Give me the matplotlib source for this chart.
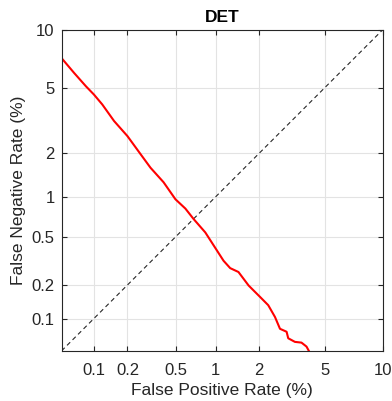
import math
import numpy as np
import matplotlib
matplotlib.use("Agg")
import matplotlib.pyplot as plt

plt.rcParams['font.family'] = ['Liberation Sans', 'DejaVu Sans']

# DET curve (percent)
fpr = [0.05, 0.066, 0.085, 0.101, 0.120, 0.153, 0.200, 0.259, 0.313, 0.40,
       0.497, 0.594, 0.687, 0.84, 0.99, 1.14, 1.27, 1.45, 1.70, 2.03, 2.29,
       2.53, 2.72, 2.99, 3.06, 3.36, 3.68, 3.94, 4.12]
fnr = [7.24, 6.04, 5.11, 4.58, 4.02, 3.20, 2.58, 1.97, 1.60, 1.27,
       0.96, 0.82, 0.684, 0.54, 0.41, 0.32, 0.278, 0.258, 0.198, 0.157, 0.133,
       0.104, 0.081, 0.076, 0.066, 0.061, 0.060, 0.055, 0.048]
ticks = [0.1, 0.2, 0.5, 1, 2, 5, 10]
tick_labels = ['0.1', '0.2', '0.5', '1', '2', '5', '10']
lims = [0.05, 10]


def norm_ppf(p):
    # Acklam's approximation of the inverse normal cdf
    p = np.clip(np.asarray(p, dtype=float), 1e-12, 1 - 1e-12)
    a = [-3.969683028665376e+01, 2.209460984245205e+02, -2.759285104469687e+02,
         1.383577518672690e+02, -3.066479806614716e+01, 2.506628277459239e+00]
    b = [-5.447609879822406e+01, 1.615858368580409e+02, -1.556989798598866e+02,
         6.680131188771972e+01, -1.328068155288572e+01]
    c = [-7.784894002430293e-03, -3.223964580411365e-01, -2.400758277161838e+00,
         -2.549732539343734e+00, 4.374664141464968e+00, 2.938163982698783e+00]
    d = [7.784695709041462e-03, 3.224671290700398e-01, 2.445134137142996e+00,
         3.754408661907416e+00]
    out = np.empty_like(p)
    lo = p < 0.02425
    hi = p > 1 - 0.02425
    mid = ~(lo | hi)
    q = np.sqrt(-2 * np.log(p[lo]))
    out[lo] = (((((c[0]*q+c[1])*q+c[2])*q+c[3])*q+c[4])*q+c[5]) / \
              ((((d[0]*q+d[1])*q+d[2])*q+d[3])*q+1)
    q = np.sqrt(-2 * np.log(1 - p[hi]))
    out[hi] = -(((((c[0]*q+c[1])*q+c[2])*q+c[3])*q+c[4])*q+c[5]) / \
               ((((d[0]*q+d[1])*q+d[2])*q+d[3])*q+1)
    q = p[mid] - 0.5
    r = q * q
    out[mid] = (((((a[0]*r+a[1])*r+a[2])*r+a[3])*r+a[4])*r+a[5])*q / \
               (((((b[0]*r+b[1])*r+b[2])*r+b[3])*r+b[4])*r+1)
    return out


def norm_cdf(z):
    z = np.asarray(z, dtype=float)
    return 0.5 * (1 + np.vectorize(math.erf)(z / math.sqrt(2)))


def fwd(v):
    return norm_ppf(np.asarray(v, dtype=float) / 100.0)


def inv(z):
    return 100.0 * norm_cdf(z)


fig = plt.figure(figsize=(3.92, 4.01), dpi=100)
ax = fig.add_axes([0.157, 0.125, 0.819, 0.8005])
ax.set_xscale('function', functions=(fwd, inv))
ax.set_yscale('function', functions=(fwd, inv))

ax.plot(lims, lims, '--', color='#262626', lw=0.8, dashes=(4, 3))
ax.plot(fpr, fnr, color='red', lw=1.5)

ax.set_xlim(lims)
ax.set_ylim(lims)
ax.set_xticks(ticks)
ax.set_xticklabels(tick_labels)
ax.set_yticks(ticks)
ax.set_yticklabels(tick_labels)
ax.minorticks_off()
ax.grid(True, color='#e3e3e3', lw=0.8)
ax.set_axisbelow(True)
ax.tick_params(direction='in', length=3.5, width=0.8, top=True, right=True,
               labelsize=12, colors='#262626')
ax.tick_params(axis='x', pad=9)
ax.tick_params(axis='y', pad=5)
for s in ax.spines.values():
    s.set_color('#262626')
    s.set_linewidth(0.8)

ax.set_xlabel('False Positive Rate (%)', fontsize=12.5, color='#262626', labelpad=3)
ax.set_ylabel('False Negative Rate (%)', fontsize=12.5, color='#262626', labelpad=4)
ax.set_title('DET', fontsize=12.5, fontweight='bold', pad=6)

fig.savefig('out.png', dpi=100)
